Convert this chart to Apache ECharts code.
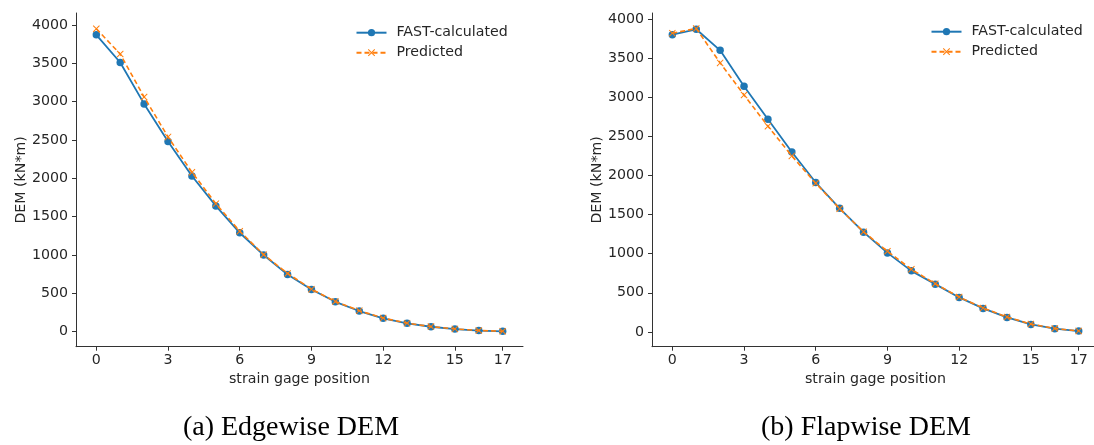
<!DOCTYPE html>
<html>
<head>
<meta charset="utf-8">
<title>DEM along strain gage positions</title>
<script src="https://cdn.jsdelivr.net/npm/echarts@6/dist/echarts.min.js"></script>
<style>
  html, body { margin: 0; padding: 0; background: #ffffff; }
  #chart { width: 1094px; height: 445px; }
</style>
</head>
<body>
<div id="chart"></div>
<script>
// Strain gage positions along the blade
const positions = [0, 1, 2, 3, 4, 5, 6, 7, 8, 9, 10, 11, 12, 13, 14, 15, 16, 17];
const xTickLabels = [0, 3, 6, 9, 12, 15, 17];
const yTickLabels = [0, 500, 1000, 1500, 2000, 2500, 3000, 3500, 4000];

// Edgewise damage-equivalent moment (kN*m)
const edgeFast = [3870, 3510, 2970, 2480, 2030, 1640, 1290, 1000, 745, 550, 390, 270, 175, 110, 65, 35, 15, 5];
const edgePred = [3950, 3620, 3060, 2540, 2080, 1670, 1310, 1005, 760, 555, 395, 275, 178, 112, 67, 37, 17, 7];

// Flapwise damage-equivalent moment (kN*m)
const flapFast = [3800, 3870, 3600, 3140, 2720, 2300, 1910, 1580, 1275, 1010, 780, 610, 440, 300, 185, 95, 40, 10];
const flapPred = [3820, 3880, 3440, 3030, 2630, 2250, 1900, 1575, 1280, 1030, 800, 615, 445, 305, 190, 100, 42, 12];

const BLUE = '#1f77b4';
const ORANGE = '#ff7f0e';
const TEXT = '#262626';
const AXIS = '#333333';
const SANS = 'DejaVu Sans';
const FS = 14.2;
// filled "x" marker
const X_MARK = 'path://M1,0L5,4L9,0L10,1L6,5L10,9L9,10L5,6L1,10L0,9L4,5L0,1Z';

const pairs = (vals) => positions.map((p, i) => [p, vals[i]]);
const plain = (v) => String(v);

function xAxisFor(gridIndex) {
  return {
    type: 'value', gridIndex,
    min: -0.85, max: 17.85,
    name: 'strain gage position', nameLocation: 'middle', nameGap: 24,
    nameTextStyle: { fontFamily: SANS, fontSize: FS, color: TEXT },
    axisLine: { show: true, onZero: false, lineStyle: { color: AXIS, width: 1 } },
    axisTick: { show: true, length: 4, customValues: xTickLabels, lineStyle: { color: AXIS } },
    axisLabel: { customValues: xTickLabels, formatter: plain, margin: 7, fontFamily: SANS, fontSize: FS, color: TEXT },
    splitLine: { show: false }
  };
}

function yAxisFor(gridIndex, min, max) {
  return {
    type: 'value', gridIndex, min, max,
    name: 'DEM (kN*m)', nameLocation: 'middle', nameGap: 48, nameRotate: 90,
    nameTextStyle: { fontFamily: SANS, fontSize: FS, color: TEXT },
    axisLine: { show: true, onZero: false, lineStyle: { color: AXIS, width: 1 } },
    axisTick: { show: true, length: 4, customValues: yTickLabels, lineStyle: { color: AXIS } },
    axisLabel: { customValues: yTickLabels, formatter: plain, margin: 8, fontFamily: SANS, fontSize: FS, color: TEXT },
    splitLine: { show: false }
  };
}

function fastSeries(idx, vals) {
  return {
    name: 'FAST-calculated', type: 'line', xAxisIndex: idx, yAxisIndex: idx,
    data: pairs(vals), symbol: 'circle', symbolSize: 7.5, showAllSymbol: true,
    lineStyle: { color: BLUE, width: 1.8 }, itemStyle: { color: BLUE },
    z: 2, animation: false
  };
}

function predSeries(idx, vals) {
  return {
    name: 'Predicted', type: 'line', xAxisIndex: idx, yAxisIndex: idx,
    data: pairs(vals), symbol: X_MARK, symbolSize: 7, showAllSymbol: true,
    lineStyle: { color: ORANGE, width: 1.6, type: [5, 3] }, itemStyle: { color: ORANGE },
    z: 3, animation: false
  };
}

function legendAt(left, top) {
  return {
    orient: 'vertical', left, top,
    itemWidth: 30, itemHeight: 9, itemGap: 6,
    data: ['FAST-calculated', 'Predicted'],
    textStyle: { fontFamily: SANS, fontSize: FS, color: TEXT, padding: [0, 0, 0, 5] },
    selectedMode: false
  };
}

const chart = echarts.init(document.getElementById('chart'), null, { renderer: 'canvas' });
chart.setOption({
  backgroundColor: '#ffffff',
  animation: false,
  grid: [
    { left: 76, top: 13, width: 447, height: 333.7, containLabel: false, outerBoundsMode: 'none' },
    { left: 652, top: 13, width: 447, height: 333.7, containLabel: false, outerBoundsMode: 'none' }
  ],
  xAxis: [xAxisFor(0), xAxisFor(1)],
  yAxis: [yAxisFor(0, -195, 4155), yAxisFor(1, -190, 4078)],
  legend: [legendAt(350.5, 20.7), legendAt(925.5, 19.7)],
  series: [
    fastSeries(0, edgeFast), predSeries(0, edgePred),
    fastSeries(1, flapFast), predSeries(1, flapPred)
  ],
  graphic: [
    { type: 'text', x: 291, y: 428, style: { text: '(a) Edgewise DEM', align: 'center', verticalAlign: 'middle', font: '28px "Liberation Serif"', fill: '#000000' } },
    { type: 'text', x: 866, y: 428, style: { text: '(b) Flapwise DEM', align: 'center', verticalAlign: 'middle', font: '28px "Liberation Serif"', fill: '#000000' } }
  ]
});
</script>
</body>
</html>
